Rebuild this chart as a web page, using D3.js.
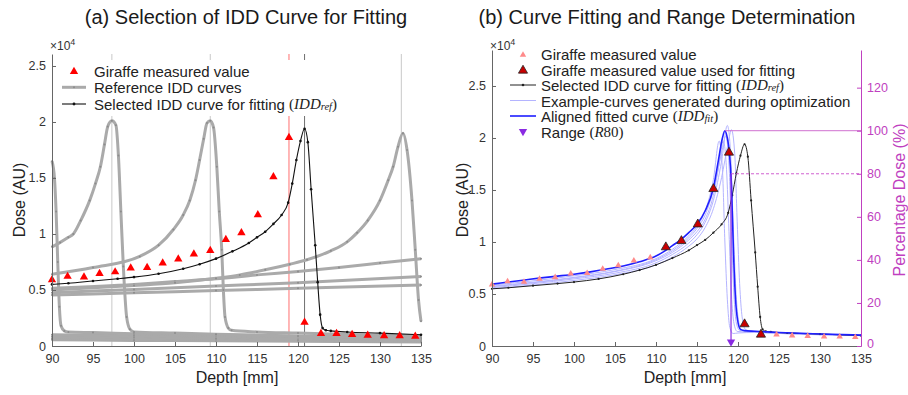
<!DOCTYPE html>
<html><head><meta charset="utf-8">
<script src="https://cdn.jsdelivr.net/npm/d3@7"></script>
<style>
html,body{margin:0;padding:0;background:#fff;}
svg{display:block;font-family:"Liberation Sans",Arial,sans-serif;}
</style></head>
<body>
<svg id="chart" width="908" height="395"></svg>
<script>
// ---------------- data (dose in units of 1e4 AU) ----------------
const xTicks = [90, 95, 100, 105, 110, 115, 120, 125, 130, 135];
const doseTicks = [0, 0.5, 1, 1.5, 2, 2.5];
const pctTicks = [0, 20, 40, 60, 80, 100, 120];

const measuredDepth = [90, 91.9, 93.9, 95.8, 97.7, 99.6, 101.6, 103.5, 105.4, 107.3, 109.3, 111.2, 113.1, 115.1, 117.0, 118.9, 120.8, 122.8, 124.7, 126.6, 128.5, 130.5, 132.4, 134.3];
const measuredDose  = [0.60, 0.63, 0.625, 0.655, 0.67, 0.705, 0.71, 0.75, 0.785, 0.83, 0.86, 0.96, 1.02, 1.18, 1.52, 1.87, 0.22, 0.12, 0.12, 0.11, 0.105, 0.10, 0.10, 0.095];
const usedForFitting = [false,false,false,false,false,false,false,false,false,false,false,true,true,true,true,true,true,true,false,false,false,false,false,false];

// selected IDD curve (IDD_ref)
const selDepth = [90, 92, 95, 98, 100, 103, 106, 108, 110, 112, 114, 115, 116, 117, 118, 118.8, 119.3, 119.8, 120.3, 120.8, 121.2, 121.6, 122.1, 122.4, 122.7, 123.0, 123.4, 124, 126, 130, 135];
const selDose  = [0.55, 0.56, 0.58, 0.60, 0.615, 0.645, 0.69, 0.73, 0.78, 0.845, 0.92, 0.97, 1.02, 1.09, 1.17, 1.28, 1.45, 1.66, 1.83, 1.94, 1.82, 1.40, 0.90, 0.57, 0.28, 0.16, 0.14, 0.135, 0.125, 0.115, 0.10];

// reference IDD curves
const refADepth = [90, 90.3, 90.5, 90.7, 90.9, 91.1, 91.5, 92, 95, 100, 110, 120, 135];
const refADose  = [1.65, 1.50, 1.20, 0.75, 0.35, 0.18, 0.135, 0.125, 0.12, 0.11, 0.095, 0.085, 0.07];
const refBDepth = [90, 91, 92, 92.6, 93.5, 94.6, 95.3, 95.9, 96.4, 96.8, 97.3, 97.8, 98.1, 98.4, 98.7, 99.1, 99.5, 100, 105, 110, 120, 135];
const refBDose  = [0.885, 0.925, 0.97, 1.0, 1.12, 1.30, 1.45, 1.60, 1.80, 1.96, 2.01, 1.97, 1.70, 1.20, 0.71, 0.26, 0.15, 0.125, 0.115, 0.105, 0.09, 0.075];
const refCDepth = [90, 95, 100.7, 103, 104.8, 106, 106.8, 107.5, 108, 108.5, 108.9, 109.3, 109.7, 110.1, 110.4, 110.7, 110.9, 111.1, 111.5, 111.9, 115, 120, 125, 135];
const refCDose  = [0.64, 0.70, 0.80, 0.90, 1.04, 1.17, 1.30, 1.48, 1.66, 1.85, 1.99, 2.01, 1.95, 1.60, 1.20, 0.86, 0.50, 0.26, 0.16, 0.14, 0.125, 0.115, 0.105, 0.09];
const refDDepth = [90, 100, 105, 110, 112.9, 116, 119, 121.1, 124, 126, 127.2, 128.5, 130, 131, 131.6, 132.2, 132.8, 133.3, 133.9, 134.3, 134.7, 135];
const refDDose  = [0.50, 0.54, 0.565, 0.605, 0.635, 0.68, 0.73, 0.77, 0.85, 0.93, 1.01, 1.12, 1.30, 1.48, 1.60, 1.78, 1.90, 1.75, 1.30, 0.86, 0.41, 0.22];
const refEDepth = [90, 100, 105, 110, 115, 120, 125, 130, 135];
const refEDose  = [0.515, 0.55, 0.575, 0.60, 0.635, 0.665, 0.70, 0.74, 0.78];
const refFDepth = [90, 100, 110, 120, 135];
const refFDose  = [0.475, 0.505, 0.535, 0.565, 0.62];
const refGDepth = [90, 100, 110, 120, 135];
const refGDose  = [0.455, 0.475, 0.495, 0.515, 0.545];
const tailDepth = [90, 100, 110, 120, 135];
const tail1Dose = [0.10, 0.092, 0.084, 0.076, 0.065];
const tail2Dose = [0.085, 0.078, 0.071, 0.064, 0.055];
const tail3Dose = [0.07, 0.064, 0.058, 0.052, 0.045];
const tail4Dose = [0.055, 0.05, 0.046, 0.042, 0.035];

// vertical marker lines (panel a)
const refPeakLines = [97.3, 109.3, 132.6];
const selPeakLine = 120.8;
const redLine = 118.9;

// aligned fitted curve (IDD_fit)
const fitDepth = [90, 92, 94, 96, 98, 100, 102, 104, 106, 108, 110, 111, 112, 113, 114, 115, 116, 117, 117.6, 118.1, 118.4, 118.7, 118.95, 119.2, 119.45, 119.7, 119.95, 120.3, 120.8, 122, 125, 130, 135];
const fitDose  = [0.595, 0.615, 0.635, 0.655, 0.672, 0.69, 0.713, 0.74, 0.77, 0.81, 0.865, 0.91, 0.965, 1.02, 1.09, 1.17, 1.30, 1.52, 1.78, 2.0, 2.07, 2.0, 1.86, 1.55, 0.90, 0.45, 0.25, 0.16, 0.148, 0.142, 0.13, 0.115, 0.105];

// example curves generated during optimization
const ex1Depth = [90, 100, 105, 110, 112, 114, 115, 116, 117, 117.7, 118.1, 118.4, 118.7, 119.0, 119.4, 120, 122, 135];
const ex1Dose  = [0.585, 0.675, 0.735, 0.84, 0.93, 1.06, 1.15, 1.30, 1.60, 1.97, 1.70, 1.00, 0.45, 0.18, 0.12, 0.125, 0.13, 0.10];
const ex2Depth = [90, 100, 105, 110, 112, 114, 115, 116, 117, 117.7, 118.2, 118.6, 118.9, 119.2, 119.5, 119.9, 121, 135];
const ex2Dose  = [0.57, 0.655, 0.715, 0.82, 0.90, 1.02, 1.10, 1.22, 1.45, 1.75, 1.97, 1.70, 1.10, 0.50, 0.22, 0.14, 0.135, 0.10];
const ex3Depth = [90, 100, 105, 110, 112, 114, 115, 116, 117, 118, 118.7, 119.1, 119.4, 119.7, 120.0, 120.4, 121, 135];
const ex3Dose  = [0.56, 0.645, 0.70, 0.80, 0.88, 0.99, 1.07, 1.19, 1.40, 1.78, 2.12, 1.85, 1.20, 0.60, 0.28, 0.16, 0.145, 0.105];
const ex4Depth = [90, 100, 105, 110, 112, 114, 115, 116, 117, 118, 118.8, 119.2, 119.6, 119.9, 120.2, 120.5, 120.9, 121.5, 135];
const ex4Dose  = [0.55, 0.63, 0.685, 0.78, 0.855, 0.96, 1.03, 1.14, 1.32, 1.62, 1.95, 2.08, 1.85, 1.20, 0.60, 0.28, 0.16, 0.145, 0.105];
const ex5Depth = [90, 100, 105, 110, 112, 114, 115, 116, 117, 118, 118.5, 118.9, 119.2, 119.5, 119.8, 120.2, 121, 135];
const ex5Dose  = [0.575, 0.66, 0.72, 0.83, 0.915, 1.04, 1.13, 1.26, 1.50, 1.86, 2.02, 1.75, 1.10, 0.50, 0.22, 0.15, 0.14, 0.10];

const fitPeakDepth = 118.4;
const fitPeakDose = 2.07;
const r80Depth = 119.15;

// ---------------- drawing ----------------
const svg = d3.select("#chart");
const zip = (xs, ys) => xs.map((x, i) => [x, ys[i]]);
const MATH = '"Liberation Serif","DejaVu Serif",serif';
const MAG = "#c040c0";
const PURPLE = "#8a2be2";

function richText(g, x, y, parts, size, color) {
  const t = g.append("text").attr("x", x).attr("y", y).attr("font-size", size)
    .attr("fill", color || "#222").attr("dominant-baseline", "central");
  parts.forEach(p => {
    const ts = t.append("tspan").text(p.t);
    if (p.math) ts.attr("font-family", MATH);
    if (p.it) ts.attr("font-style", "italic");
    if (p.sub) ts.attr("font-size", size * 0.7).attr("dy", 2);
    if (p.up) ts.attr("dy", -2);
    if (p.sup) ts.attr("dy", -4).attr("font-size", size * 0.75);
  });
  return t;
}

function styleAxis(g, color) {
  g.selectAll(".domain").attr("stroke", color).attr("stroke-width", 1);
  g.selectAll(".tick line").attr("stroke", color);
  g.selectAll(".tick text").attr("fill", color === "#666" ? "#333" : color)
    .attr("font-size", 12.5).attr("font-family", '"Liberation Sans",Arial,sans-serif');
}

// titles
svg.append("text").attr("x", 246).attr("y", 24).attr("text-anchor", "middle")
  .attr("font-size", 20).attr("fill", "#1a1a1a").text("(a) Selection of IDD Curve for Fitting");
svg.append("text").attr("x", 667).attr("y", 24).attr("text-anchor", "middle")
  .attr("font-size", 20).attr("fill", "#1a1a1a").text("(b) Curve Fitting and Range Determination");

// ======== Panel (a) ========
const xL = d3.scaleLinear().domain([90, 135]).range([52, 421]);
const yL = d3.scaleLinear().domain([0, 2.607]).range([346, 54]);
const lineL = d3.line().x(d => xL(d[0])).y(d => yL(d[1])).curve(d3.curveMonotoneX);
const gA = svg.append("g");

// vertical lines
refPeakLines.forEach(d => gA.append("line").attr("x1", xL(d)).attr("x2", xL(d))
  .attr("y1", 54).attr("y2", 346).attr("stroke", "#c8c8c8").attr("stroke-width", 1));
gA.append("line").attr("x1", xL(selPeakLine)).attr("x2", xL(selPeakLine))
  .attr("y1", 54).attr("y2", 346).attr("stroke", "#707070").attr("stroke-width", 1);
gA.append("line").attr("x1", xL(redLine)).attr("x2", xL(redLine))
  .attr("y1", 54).attr("y2", 346).attr("stroke", "#ff7070").attr("stroke-width", 1);

const refCurves = [
  [tailDepth, tail4Dose], [tailDepth, tail3Dose], [tailDepth, tail2Dose], [tailDepth, tail1Dose],
  [refGDepth, refGDose], [refFDepth, refFDose], [refEDepth, refEDose],
  [refADepth, refADose], [refBDepth, refBDose], [refCDepth, refCDose], [refDDepth, refDDose]
];
refCurves.forEach(([dx, dy]) => {
  const pts = zip(dx, dy);
  gA.append("path").attr("d", lineL(pts)).attr("fill", "none")
    .attr("stroke", "#aaaaaa").attr("stroke-width", 3).attr("stroke-linejoin", "round");
  gA.selectAll(null).data(pts).join("circle").attr("cx", d => xL(d[0])).attr("cy", d => yL(d[1]))
    .attr("r", 1).attr("fill", "#8c8c8c");
});

// selected curve
const selPts = zip(selDepth, selDose);
gA.append("path").attr("d", lineL(selPts)).attr("fill", "none").attr("stroke", "#111").attr("stroke-width", 1.1);
gA.selectAll(null).data(selPts).join("circle").attr("cx", d => xL(d[0])).attr("cy", d => yL(d[1]))
  .attr("r", 1.3).attr("fill", "#111");

// measured triangles
const tri = d3.symbol(d3.symbolTriangle, 30);
gA.selectAll(null).data(zip(measuredDepth, measuredDose)).join("path")
  .attr("d", tri).attr("transform", d => `translate(${xL(d[0])},${yL(d[1]) + 1})`)
  .attr("fill", "#ff0000");

// axes
const axL = gA.append("g").attr("transform", "translate(52,0)")
  .call(d3.axisLeft(yL).tickValues(doseTicks).tickSizeInner(-4).tickSizeOuter(0).tickPadding(6)
    .tickFormat(d => d3.format("~g")(d)));
styleAxis(axL, "#666");
const axB = gA.append("g").attr("transform", "translate(0,346)")
  .call(d3.axisBottom(xL).tickValues(xTicks).tickSizeInner(-4).tickSizeOuter(0).tickPadding(8));
styleAxis(axB, "#666");

// x10^4
richText(gA, 50, 46, [{t: "×10"}, {t: "4", sup: true}], 12, "#333");

// labels
gA.append("text").attr("x", 237).attr("y", 383).attr("text-anchor", "middle").attr("font-size", 16)
  .attr("fill", "#222").text("Depth [mm]");
gA.append("text").attr("transform", "translate(19,200) rotate(-90)").attr("text-anchor", "middle")
  .attr("dominant-baseline", "central").attr("font-size", 16).attr("fill", "#222").text("Dose (AU)");

// legend (a)
const lgA = gA.append("g");
lgA.append("rect").attr("x", 56).attr("y", 60).attr("width", 308).attr("height", 56).attr("fill", "#fff");
lgA.append("path").attr("d", tri).attr("transform", "translate(74,71.5)").attr("fill", "#ff0000");
richText(lgA, 94, 70.7, [{t: "Giraffe measured value"}], 15);
lgA.append("line").attr("x1", 62).attr("x2", 86).attr("y1", 87.3).attr("y2", 87.3)
  .attr("stroke", "#aaaaaa").attr("stroke-width", 3);
lgA.append("circle").attr("cx", 74).attr("cy", 87.3).attr("r", 1).attr("fill", "#8c8c8c");
richText(lgA, 94, 87.3, [{t: "Reference IDD curves"}], 15);
lgA.append("line").attr("x1", 62).attr("x2", 86).attr("y1", 104).attr("y2", 104)
  .attr("stroke", "#111").attr("stroke-width", 1.1);
lgA.append("circle").attr("cx", 74).attr("cy", 104).attr("r", 1.4).attr("fill", "#111");
richText(lgA, 94, 104, [{t: "Selected IDD curve for fitting "}, {t: "(", math: true},
  {t: "IDD", math: true, it: true}, {t: "ref", math: true, it: true, sub: true}, {t: ")", math: true, up: true}], 15);

// ======== Panel (b) ========
const xR = d3.scaleLinear().domain([90, 135]).range([492, 861]);
const yR = d3.scaleLinear().domain([0, 2.846]).range([346, 50]);
const yP = d3.scaleLinear().domain([0, 2.846 / fitPeakDose * 100]).range([346, 50]);
const lineR = d3.line().x(d => xR(d[0])).y(d => yR(d[1])).curve(d3.curveMonotoneX);
const gB = svg.append("g");

// example curves
[[ex1Depth, ex1Dose], [ex2Depth, ex2Dose], [ex3Depth, ex3Dose], [ex4Depth, ex4Dose], [ex5Depth, ex5Dose]]
  .forEach(([dx, dy]) => gB.append("path").attr("d", lineR(zip(dx, dy))).attr("fill", "none")
    .attr("stroke", "#b4b4ff").attr("stroke-width", 1));

// selected curve
gB.append("path").attr("d", lineR(selPts)).attr("fill", "none").attr("stroke", "#222").attr("stroke-width", 1);
gB.selectAll(null).data(selPts).join("circle").attr("cx", d => xR(d[0])).attr("cy", d => yR(d[1]))
  .attr("r", 1.1).attr("fill", "#222");

// fitted curve
gB.append("path").attr("d", lineR(zip(fitDepth, fitDose))).attr("fill", "none")
  .attr("stroke", "#1f1fff").attr("stroke-width", 1.6);

// 100% and 80% lines, R80
gB.append("line").attr("x1", xR(fitPeakDepth)).attr("x2", 861).attr("y1", yP(100)).attr("y2", yP(100))
  .attr("stroke", "#d070d0").attr("stroke-width", 1);
gB.append("line").attr("x1", xR(r80Depth)).attr("x2", 861).attr("y1", yP(80)).attr("y2", yP(80))
  .attr("stroke", "#d060d0").attr("stroke-width", 1).attr("stroke-dasharray", "3,2");
gB.append("line").attr("x1", xR(r80Depth)).attr("x2", xR(r80Depth)).attr("y1", yP(80)).attr("y2", 344)
  .attr("stroke", PURPLE).attr("stroke-width", 1.2);

// measured markers
const triSmall = d3.symbol(d3.symbolTriangle, 18);
const triBig = d3.symbol(d3.symbolTriangle, 36);
const mPts = zip(measuredDepth, measuredDose);
gB.selectAll(null).data(mPts.filter((d, i) => !usedForFitting[i])).join("path")
  .attr("d", triSmall).attr("transform", d => `translate(${xR(d[0])},${yR(d[1]) + 1})`)
  .attr("fill", "#ff8a8a");
gB.selectAll(null).data(mPts.filter((d, i) => usedForFitting[i])).join("path")
  .attr("d", triBig).attr("transform", d => `translate(${xR(d[0])},${yR(d[1]) + 1})`)
  .attr("fill", "#c80000").attr("stroke", "#222").attr("stroke-width", 0.8);

const triDown = d3.symbol(d3.symbolTriangle, 30);
gB.append("path").attr("d", triDown).attr("transform", `translate(${xR(r80Depth)},342) rotate(180)`)
  .attr("fill", PURPLE);

// axes
const axRL = gB.append("g").attr("transform", "translate(492,0)")
  .call(d3.axisLeft(yR).tickValues(doseTicks).tickSizeInner(-4).tickSizeOuter(0).tickPadding(6)
    .tickFormat(d => d3.format("~g")(d)));
styleAxis(axRL, "#666");
const axRB = gB.append("g").attr("transform", "translate(0,346)")
  .call(d3.axisBottom(xR).tickValues(xTicks).tickSizeInner(-4).tickSizeOuter(0).tickPadding(8));
styleAxis(axRB, "#666");
const axRR = gB.append("g").attr("transform", "translate(861,0)")
  .call(d3.axisRight(yP).tickValues(pctTicks).tickSizeInner(-4).tickSizeOuter(0).tickPadding(6));
styleAxis(axRR, MAG);
axRR.selectAll(".tick text").filter(d => d === 0).attr("dy", "0.1em");

richText(gB, 490, 46, [{t: "×10"}, {t: "4", sup: true}], 12, "#333");

gB.append("text").attr("x", 685).attr("y", 383).attr("text-anchor", "middle").attr("font-size", 16)
  .attr("fill", "#222").text("Depth [mm]");
gB.append("text").attr("transform", "translate(462,200) rotate(-90)").attr("text-anchor", "middle")
  .attr("dominant-baseline", "central").attr("font-size", 16).attr("fill", "#222").text("Dose (AU)");
gB.append("text").attr("transform", "translate(899,200) rotate(-90)").attr("text-anchor", "middle")
  .attr("dominant-baseline", "central").attr("font-size", 16).attr("fill", MAG).text("Percentage Dose (%)");

// legend (b)
const lgB = gB.append("g");
const ly = [54, 69.5, 85, 100.5, 116, 131.5];
lgB.append("path").attr("d", triSmall).attr("transform", `translate(523,${ly[0] + 1})`).attr("fill", "#ff8a8a");
richText(lgB, 541, ly[0], [{t: "Giraffe measured value"}], 15);
lgB.append("path").attr("d", triBig).attr("transform", `translate(523,${ly[1] + 1})`)
  .attr("fill", "#c80000").attr("stroke", "#222").attr("stroke-width", 0.8);
richText(lgB, 541, ly[1], [{t: "Giraffe measured value used for fitting"}], 15);
lgB.append("line").attr("x1", 510).attr("x2", 536).attr("y1", ly[2]).attr("y2", ly[2]).attr("stroke", "#222");
lgB.append("circle").attr("cx", 523).attr("cy", ly[2]).attr("r", 1.3).attr("fill", "#222");
richText(lgB, 541, ly[2], [{t: "Selected IDD curve for fitting "}, {t: "(", math: true},
  {t: "IDD", math: true, it: true}, {t: "ref", math: true, it: true, sub: true}, {t: ")", math: true, up: true}], 15);
lgB.append("line").attr("x1", 510).attr("x2", 536).attr("y1", ly[3]).attr("y2", ly[3]).attr("stroke", "#b4b4ff");
richText(lgB, 541, ly[3], [{t: "Example-curves generated during optimization"}], 15);
lgB.append("line").attr("x1", 510).attr("x2", 536).attr("y1", ly[4]).attr("y2", ly[4]).attr("stroke", "#1f1fff").attr("stroke-width", 1.6);
richText(lgB, 541, ly[4], [{t: "Aligned fitted curve "}, {t: "(", math: true},
  {t: "IDD", math: true, it: true}, {t: "fit", math: true, it: true, sub: true}, {t: ")", math: true, up: true}], 15);
lgB.append("path").attr("d", triDown).attr("transform", `translate(523,${ly[5]}) rotate(180)`).attr("fill", PURPLE);
richText(lgB, 541, ly[5], [{t: "Range "}, {t: "(", math: true}, {t: "R", math: true, it: true},
  {t: "80", math: true}, {t: ")", math: true}], 15);
</script>
</body></html>
